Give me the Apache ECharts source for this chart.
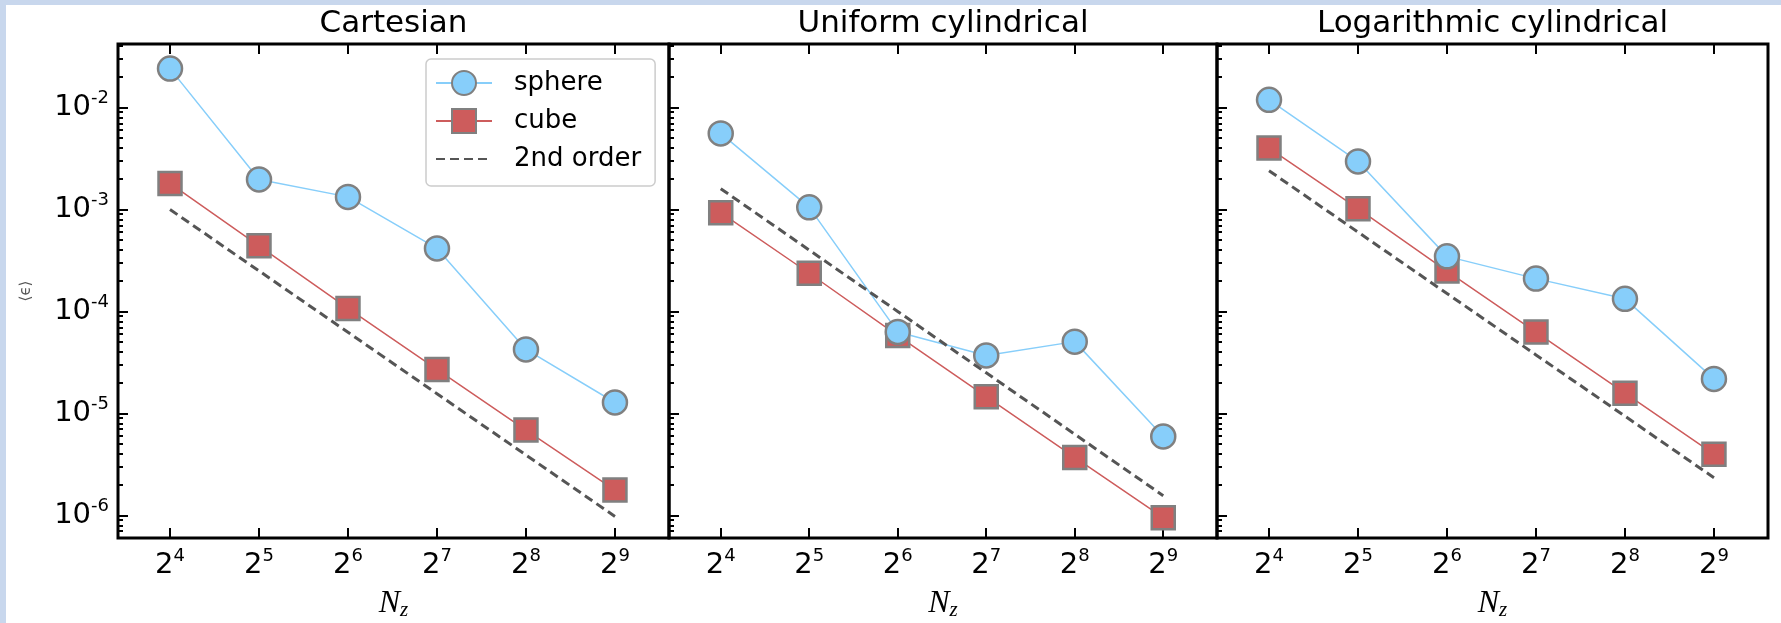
<!DOCTYPE html>
<html><head><meta charset="utf-8">
<script src="https://cdn.jsdelivr.net/npm/echarts@6/dist/echarts.min.js"></script>
<style>
html,body{margin:0;padding:0;background:#fff;}
#chart{position:absolute;left:0;top:0;width:1781px;height:623px;}
#stripTop{position:absolute;left:0;top:0;width:1781px;height:5px;background:#c8d7ed;z-index:5;}
#stripLeft{position:absolute;left:0;top:0;width:6px;height:623px;background:#c8d7ed;z-index:5;}
</style></head><body>
<div id="chart"></div><div id="stripTop"></div><div id="stripLeft"></div>
<script>
// ---- data ----
const N = [16, 32, 64, 128, 256, 512];
const panelTitles = ['Cartesian', 'Uniform cylindrical', 'Logarithmic cylindrical'];
const xTickExponents = [4, 5, 6, 7, 8, 9];
const yTickExponents = [-6, -5, -4, -3, -2];
const seriesNames = ['sphere', 'cube', '2nd order'];

const cartesianSphere = [2.41e-2, 1.97e-3, 1.33e-3, 4.15e-4, 4.24e-5, 1.28e-5];
const cartesianCube   = [1.80e-3, 4.40e-4, 1.07e-4, 2.70e-5, 6.86e-6, 1.77e-6];
const cartesianOrder2 = [1.0e-3, 2.5e-4, 6.25e-5, 1.56e-5, 3.91e-6, 9.77e-7];

const uniformSphere = [5.58e-3, 1.05e-3, 6.3e-5, 3.70e-5, 5.06e-5, 5.94e-6];
const uniformCube   = [9.3e-4, 2.37e-4, 5.8e-5, 1.46e-5, 3.70e-6, 9.5e-7];
const uniformOrder2 = [1.6e-3, 4.0e-4, 1.0e-4, 2.5e-5, 6.25e-6, 1.56e-6];

const logSphere = [1.19e-2, 2.96e-3, 3.47e-4, 2.10e-4, 1.33e-4, 2.18e-5];
const logCube   = [4.01e-3, 1.02e-3, 2.49e-4, 6.28e-5, 1.58e-5, 3.98e-6];
const logOrder2 = [2.4e-3, 6.0e-4, 1.5e-4, 3.75e-5, 9.4e-6, 2.34e-6];

const panelSphere = [cartesianSphere, uniformSphere, logSphere];
const panelCube = [cartesianCube, uniformCube, logCube];
const panelOrder2 = [cartesianOrder2, uniformOrder2, logOrder2];

// ---- layout ----
const FONT = 'DejaVu Sans';
const gridBoxes = [
  {left: 118, width: 551},
  {left: 669, width: 548},
  {left: 1217, width: 551}
];
const X_MIN = 10.67, X_MAX = 780;
const Y_MIN = 6e-7, Y_MAX = 4.2e-2;

const xTickValues = xTickExponents.map(e => Math.pow(2, e));
const yMajorValues = yTickExponents.map(e => Math.pow(10, e));
const yMinorValues = [];
for (let e = -7; e <= -2; e++) {
  for (let k = 2; k <= 9; k++) {
    const v = k * Math.pow(10, e);
    if (v > Y_MIN && v < Y_MAX) yMinorValues.push(v);
  }
}

const richNum = {
  b: {fontSize: 29, fontFamily: FONT, color: '#000', lineHeight: 36},
  s: {fontSize: 18, fontFamily: FONT, color: '#000', lineHeight: 24, verticalAlign: 'top'}
};

const grids = [], xAxes = [], yAxes = [], series = [];
gridBoxes.forEach((g, i) => {
  grids.push({left: g.left, width: g.width, top: 44, height: 494,
    show: true, borderColor: '#000', borderWidth: 3, backgroundColor: 'transparent',
    outerBoundsMode: 'none', containLabel: false});
  xAxes.push({
    type: 'log', logBase: 2, gridIndex: i, position: 'bottom', min: X_MIN, max: X_MAX,
    axisLine: {show: false}, splitLine: {show: false},
    axisTick: {show: true, inside: true, length: 10, lineStyle: {color: '#000', width: 2}, customValues: xTickValues},
    axisLabel: {show: true, margin: 9, customValues: xTickValues,
      formatter: v => '{b|2}{s|' + Math.round(Math.log2(v)) + '}', rich: richNum},
    name: '{n|N}{z|z}', nameLocation: 'middle', nameGap: 49,
    nameTextStyle: {rich: {
      n: {fontSize: 32, fontFamily: 'Liberation Serif', fontStyle: 'italic', color: '#000', lineHeight: 34},
      z: {fontSize: 21, fontFamily: 'Liberation Serif', fontStyle: 'italic', color: '#000', lineHeight: 22, verticalAlign: 'bottom'}
    }}
  });
  xAxes.push({
    type: 'log', logBase: 2, gridIndex: i, position: 'top', min: X_MIN, max: X_MAX,
    axisLine: {show: false}, splitLine: {show: false},
    axisTick: {show: true, inside: true, length: 10, lineStyle: {color: '#000', width: 2}, customValues: xTickValues},
    axisLabel: {show: false},
    name: panelTitles[i], nameLocation: 'middle', nameGap: 5,
    nameTextStyle: {fontSize: 31, fontFamily: FONT, color: '#000'}
  });
  yAxes.push({
    type: 'log', gridIndex: i, position: 'left', min: Y_MIN, max: Y_MAX,
    axisLine: {show: false}, splitLine: {show: false},
    axisTick: {show: true, inside: true, length: 10, lineStyle: {color: '#000', width: 2}, customValues: yMajorValues},
    axisLabel: {show: i === 0, margin: 9, customValues: yMajorValues,
      formatter: v => '{b|10}{s|' + Math.round(Math.log10(v)) + '}', rich: richNum},
    name: i === 0 ? '\u27E8\u03F5\u27E9' : '', nameLocation: 'middle', nameRotate: 90, nameGap: 84,
    nameTextStyle: {fontSize: 15, fontFamily: FONT, color: '#555'}
  });
  yAxes.push({
    type: 'log', gridIndex: i, position: 'left', min: Y_MIN, max: Y_MAX,
    axisLine: {show: false}, splitLine: {show: false},
    axisTick: {show: true, inside: true, length: 5, lineStyle: {color: '#000', width: 2}, customValues: yMinorValues},
    axisLabel: {show: false}
  });

  const pts = arr => N.map((n, k) => [n, arr[k]]);
  series.push({
    name: 'cube', type: 'line', xAxisIndex: 2 * i, yAxisIndex: 2 * i, data: pts(panelCube[i]),
    symbol: 'rect', symbolSize: 23, z: 3,
    lineStyle: {color: '#cd5c5c', width: 1.5},
    itemStyle: {color: '#cd5c5c', borderColor: '#808080', borderWidth: 2.5}
  });
  series.push({
    name: 'sphere', type: 'line', xAxisIndex: 2 * i, yAxisIndex: 2 * i, data: pts(panelSphere[i]),
    symbol: 'circle', symbolSize: 24, z: 4,
    lineStyle: {color: '#87cefa', width: 1.5},
    itemStyle: {color: '#87cefa', borderColor: '#808080', borderWidth: 2.5}
  });
  series.push({
    name: '2nd order', type: 'line', xAxisIndex: 2 * i, yAxisIndex: 2 * i, data: pts(panelOrder2[i]),
    symbol: 'none', z: 5,
    lineStyle: {color: '#555555', width: 3, type: [9, 5]},
    itemStyle: {color: '#555555'}
  });
});

const chart = echarts.init(document.getElementById('chart'), null, {renderer: 'canvas'});
chart.setOption({
  animation: false,
  backgroundColor: '#fff',
  grid: grids,
  xAxis: xAxes,
  yAxis: yAxes,
  legend: {
    data: [
      {name: seriesNames[0]},
      {name: seriesNames[1]},
      {name: seriesNames[2], itemStyle: {color: 'rgba(0,0,0,0)', borderWidth: 0, opacity: 0}}
    ],
    orient: 'vertical', left: 426, top: 59,
    backgroundColor: 'rgba(255,255,255,0.85)', borderColor: '#cccccc', borderWidth: 1.5, borderRadius: 5,
    padding: [11, 14, 14, 9], itemWidth: 56, itemHeight: 30, itemGap: 12,
    selectedMode: false,
    textStyle: {fontSize: 26, fontFamily: FONT, color: '#000', padding: [0, 0, 0, 17]}
  },
  series: series
});
</script>
</body></html>
